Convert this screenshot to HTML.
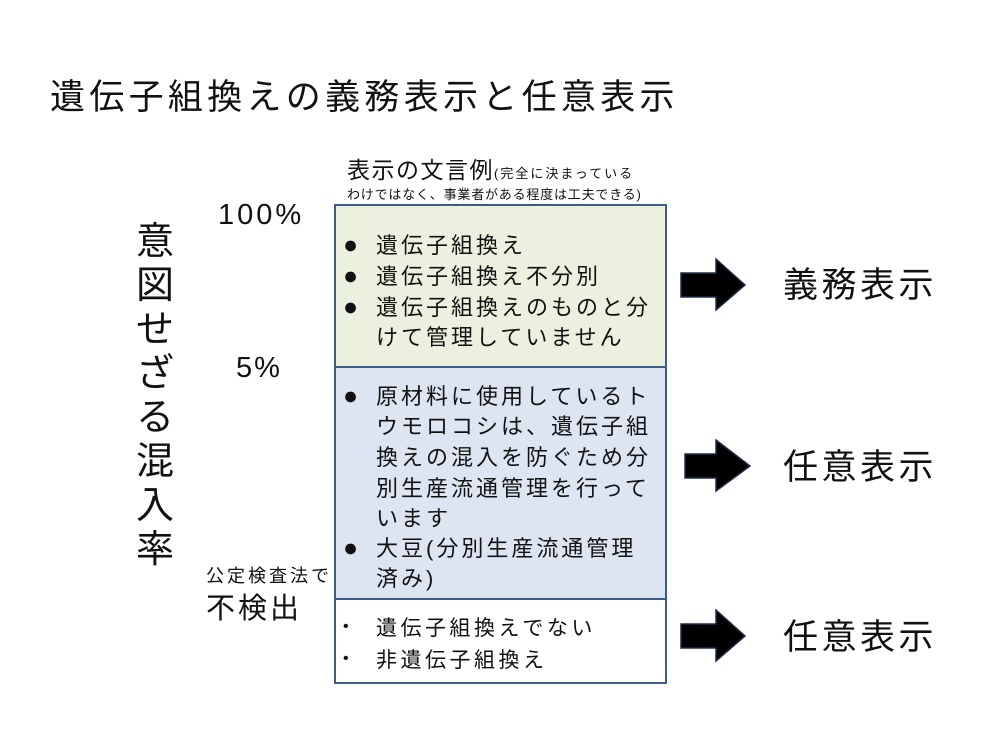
<!DOCTYPE html>
<html><head><meta charset="utf-8">
<style>
body{margin:0;width:1000px;height:750px;background:#fff;position:relative;overflow:hidden;font-family:"Liberation Sans","Noto Sans CJK JP",sans-serif;color:#111}
.a{position:absolute;white-space:nowrap;line-height:1}
.box{position:absolute;left:334px;width:329px;border:2px solid #3e5d86;box-sizing:content-box}
.l{position:absolute;white-space:nowrap;font-size:22px;line-height:1;letter-spacing:3px}
.b{position:absolute;font-size:25px;line-height:1}
</style></head><body>
<div class="a" style="left:50px;top:80px;font-size:35px;letter-spacing:4.3px">遺伝子組換えの義務表示と任意表示</div>

<div class="a" style="left:135px;top:220px;font-size:38px;line-height:44px;width:40px;white-space:normal;text-align:center">意<br>図<br>せ<br>ざ<br>る<br>混<br>入<br>率</div>

<div class="a" style="left:218px;top:201px;font-size:29px;letter-spacing:3px">100%</div>
<div class="a" style="left:236px;top:354px;font-size:29px;letter-spacing:2px">5%</div>
<div class="a" style="left:206px;top:567px;font-size:18px;letter-spacing:3px">公定検査法で</div>
<div class="a" style="left:206px;top:595px;font-size:29px;letter-spacing:3px">不検出</div>

<div class="a" style="left:347px;top:159px;font-size:23px;letter-spacing:1.5px">表示の文言例<span style="font-size:13px;letter-spacing:2px">(完全に決まっている</span></div>
<div class="a" style="left:347px;top:188px;font-size:13px;letter-spacing:0.8px">わけではなく、事業者がある程度は工夫できる)</div>

<div class="box" style="top:204px;height:162px;background:#ebf1de"></div>
<div class="box" style="top:366px;height:230px;background:#dce5f1;border-top:2px solid #3e5d86"></div>
<div class="box" style="top:598px;height:82px;background:#fff"></div>

<div class="b" style="left:343px;top:233px">●</div><div class="l" style="left:376px;top:235px">遺伝子組換え</div>
<div class="b" style="left:343px;top:264px">●</div><div class="l" style="left:376px;top:266px">遺伝子組換え不分別</div>
<div class="b" style="left:343px;top:295px">●</div><div class="l" style="left:376px;top:297px">遺伝子組換えのものと分</div>
<div class="l" style="left:376px;top:327px">けて管理していません</div>

<div class="b" style="left:343px;top:384px">●</div><div class="l" style="left:376px;top:386px">原材料に使用しているト</div>
<div class="l" style="left:376px;top:416px">ウモロコシは、遺伝子組</div>
<div class="l" style="left:376px;top:447px">換えの混入を防ぐため分</div>
<div class="l" style="left:376px;top:478px">別生産流通管理を行って</div>
<div class="l" style="left:376px;top:508px">います</div>
<div class="b" style="left:343px;top:536px">●</div><div class="l" style="left:376px;top:538px">大豆(分別生産流通管理</div>
<div class="l" style="left:376px;top:568px">済み)</div>

<div class="b" style="left:343px;top:619px;font-size:16px">•</div><div class="l" style="left:376px;top:618px;font-size:21px;letter-spacing:3.5px">遺伝子組換えでない</div>
<div class="b" style="left:343px;top:651px;font-size:16px">•</div><div class="l" style="left:376px;top:650px;font-size:21px;letter-spacing:3.5px">非遺伝子組換え</div>

<svg class="a" style="left:0;top:0" width="1000" height="750">
<g fill="#000" stroke="#1f2e4a" stroke-width="1.5">
<polygon points="681,273 716,273 716,259 745,285 716,310 716,297 681,297"/>
<polygon points="685,454 716,454 716,440 750,466 716,491 716,478 685,478"/>
<polygon points="681,624 716,624 716,610 745,636 716,661 716,648 681,648"/>
</g></svg>

<div class="a" style="left:783px;top:268px;font-size:35px;letter-spacing:3.5px">義務表示</div>
<div class="a" style="left:783px;top:450px;font-size:35px;letter-spacing:3.5px">任意表示</div>
<div class="a" style="left:783px;top:620px;font-size:35px;letter-spacing:3.5px">任意表示</div>
</body></html>
